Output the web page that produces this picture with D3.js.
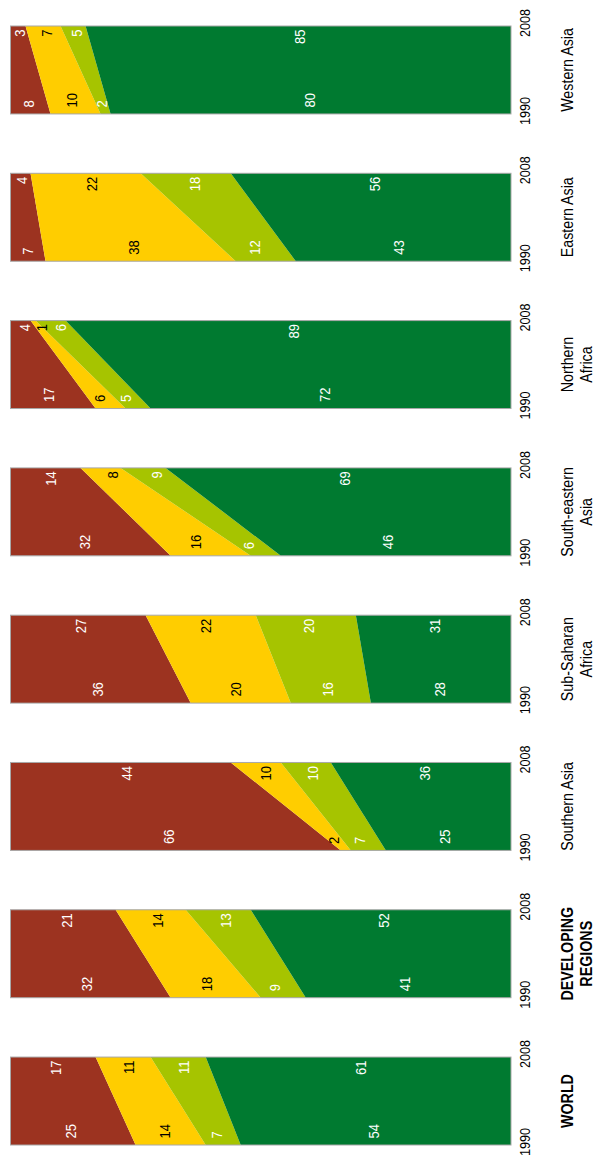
<!DOCTYPE html>
<html>
<head>
<meta charset="utf-8">
<script src="https://cdn.jsdelivr.net/npm/d3@7"></script>
<style>
  html, body { margin: 0; padding: 0; background: #fff; }
  svg { display: block; }
  text { font-family: "Liberation Sans", Arial, sans-serif; }
</style>
</head>
<body>
<svg id="chart" width="598" height="1159"></svg>
<script>
// Regions, top to bottom in the picture
const regions = ["Western Asia", "Eastern Asia", "Northern Africa", "South-eastern Asia",
                 "Sub-Saharan Africa", "Southern Asia", "Developing Regions", "World"];
const regionLabels = [["Western Asia"], ["Eastern Asia"], ["Northern", "Africa"],
                      ["South-eastern", "Asia"], ["Sub-Saharan", "Africa"], ["Southern Asia"],
                      ["DEVELOPING", "REGIONS"], ["WORLD"]];
const boldRegions = ["Developing Regions", "World"];
const years = [1990, 2008];
const series = ["Open defecation", "Unimproved facilities", "Shared facilities", "Improved facilities"];
const seriesColors = ["#9c3320", "#ffcd00", "#a6c400", "#007a30"];
const labelColors = ["#ffffff", "#000000", "#ffffff", "#ffffff"];

// Percentages per region (same order as regions)
const openDefecation1990 = [8, 7, 17, 32, 36, 66, 32, 25];
const openDefecation2008 = [3, 4, 4, 14, 27, 44, 21, 17];
const unimproved1990     = [10, 38, 6, 16, 20, 2, 18, 14];
const unimproved2008     = [7, 22, 1, 8, 22, 10, 14, 11];
const shared1990         = [2, 12, 5, 6, 16, 7, 9, 7];
const shared2008         = [5, 18, 6, 9, 20, 10, 13, 11];
const improved1990       = [80, 43, 72, 46, 28, 25, 41, 54];
const improved2008       = [85, 56, 89, 69, 31, 36, 52, 61];

const byYear = {
  1990: [openDefecation1990, unimproved1990, shared1990, improved1990],
  2008: [openDefecation2008, unimproved2008, shared2008, improved2008]
};

const condense = 0.84; // narrow typeface look

const svg = d3.select("#chart");

const panelY = d3.scaleBand().domain(regions).range([26, 1145]).paddingInner(0.403).paddingOuter(0);
const x = d3.scaleLinear().domain([0, 100]).range([10.5, 511]);

const stack = d3.stack().keys(series);
const area = d3.area()
  .x0(d => x(d[0]))
  .x1(d => x(d[1]))
  .y(d => d.y);

regions.forEach((region, ri) => {
  const top = panelY(region);
  const bottom = top + panelY.bandwidth();
  const y = d3.scaleLinear().domain([1990, 2008]).range([bottom, top]);

  const rows = years.map(yr => {
    const row = { year: yr };
    series.forEach((s, si) => { row[s] = byYear[yr][si][ri]; });
    return row;
  });
  const stacked = stack(rows);

  const g = svg.append("g");

  stacked.forEach((layer, si) => {
    const pts = layer.map(d => { const p = [d[0], d[1]]; p.y = y(d.data.year); return p; });
    g.append("path")
      .attr("d", area(pts))
      .attr("fill", seriesColors[si]);
  });

  // outline
  g.append("rect")
    .attr("x", x(0)).attr("y", top)
    .attr("width", x(100) - x(0)).attr("height", bottom - top)
    .attr("fill", "none").attr("stroke", "#a8a8a8").attr("stroke-width", 1);

  // value labels
  const labelYearFrac = { 1990: 0.14, 2008: 0.11 };
  stacked.forEach((layer, si) => {
    layer.forEach(d => {
      const yr = d.data.year;
      const other = layer.find(e => e.data.year !== yr);
      const f = labelYearFrac[yr];
      const lo = d[0] + (other[0] - d[0]) * f;
      const hi = d[1] + (other[1] - d[1]) * f;
      const cx = x((lo + hi) / 2);
      const isStart = yr === 1990;
      const ty = isStart ? y(yr) - 6.5 : y(yr) + 3.5;
      g.append("text")
        .attr("transform", `translate(${cx},${ty}) rotate(-90) scale(${condense},1)`)
        .attr("text-anchor", isStart ? "start" : "end")
        .attr("dy", "0.36em")
        .attr("font-size", 15.5)
        .attr("fill", labelColors[si])
        .text(d.data[series[si]]);
    });
  });

  // year labels
  years.forEach(yr => {
    g.append("text")
      .attr("transform", `translate(525,${y(yr) - 3}) rotate(-90) scale(${condense},1)`)
      .attr("text-anchor", "middle")
      .attr("dy", "0.36em")
      .attr("font-size", 15)
      .attr("fill", "#000")
      .text(yr);
  });

  // region label
  const lines = regionLabels[ri];
  const bold = boldRegions.includes(region);
  const t = g.append("text")
    .attr("transform", `translate(567,${(top + bottom) / 2}) rotate(-90) scale(${condense},1)`)
    .attr("text-anchor", "middle")
    .attr("font-size", 17)
    .attr("font-weight", bold ? "bold" : "normal")
    .attr("fill", "#000");
  lines.forEach((ln, li) => {
    t.append("tspan")
      .attr("x", 0)
      .attr("dy", li === 0 ? "0.36em" : "1.12em")
      .text(ln);
  });
});
</script>
</body>
</html>
